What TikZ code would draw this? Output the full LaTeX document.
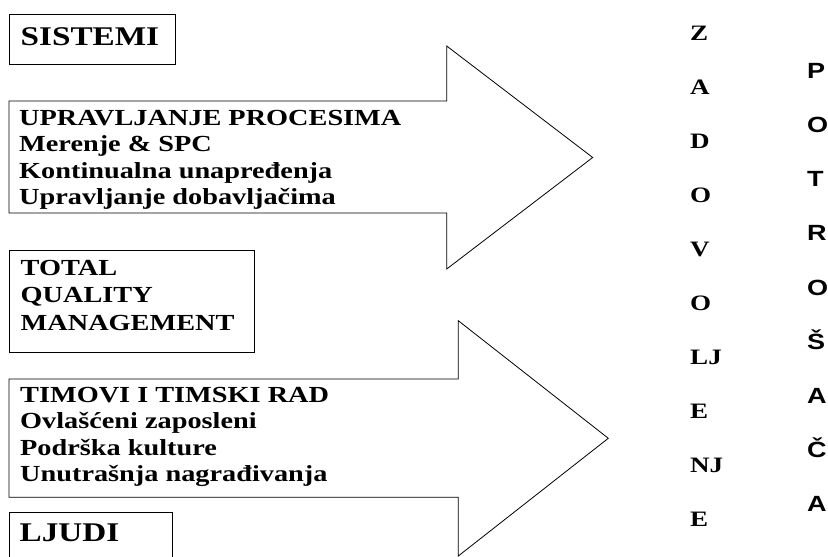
\documentclass[tikz,border=0pt]{standalone}
\usepackage{fontspec}
\setmainfont{Liberation Serif}[FakeStretch=1.23]
\newfontfamily\lettersans{Liberation Sans}[FakeStretch=1.23]
\usetikzlibrary{positioning}

\begin{document}
\begin{tikzpicture}[
  x=1pt, y=-1pt,
  boxframe/.style={draw, line width=0.8pt, inner sep=0pt, anchor=north west},
  headtext/.style={font=\fontsize{27}{30}\selectfont\bfseries, inner sep=0pt, anchor=base west},
  bodytext/.style={font=\fontsize{23}{26.3}\selectfont\bfseries, align=left, inner sep=0pt, anchor=north west},
  blockarrow/.style={draw, line width=0.8pt, line join=miter},
  zletter/.style={font=\fontsize{22}{24}\selectfont\bfseries, inner sep=0pt, anchor=base west},
  pletter/.style={font=\lettersans\fontsize{22}{24}\selectfont\bfseries, inner sep=0pt, anchor=base west}
]
\useasboundingbox (0,0) rectangle (828,557);

% boxes on the left
\node[boxframe, minimum width=166pt, minimum height=50pt] (sistemi) at (9,14) {};
\node[headtext] (sistemiT) at (20.5,45) {SISTEMI};
\node[boxframe, minimum width=245pt, minimum height=102pt] (tqm) at (9,250) {};
\node[bodytext, font=\fontsize{23}{27.5}\selectfont\bfseries] (tqmT) at (20.5,260) {TOTAL\\QUALITY\\MANAGEMENT};
\node[boxframe, minimum width=163pt, minimum height=56pt] (ljudi) at (9,511.7) {};
\node[headtext] (ljudiT) at (19.5,541.7) {LJUDI};

% the two big arrows
\draw[blockarrow] (9,101) -- (446.7,101) -- (446.7,46) -- (592.7,157.5)
  -- (446.7,269) -- (446.7,213) -- (9,213) -- cycle;
\draw[blockarrow] (9,379) -- (458.3,379) -- (458.3,320.7) -- (608.3,438.3)
  -- (458.3,556) -- (458.3,497.3) -- (9,497.3) -- cycle;
\node[bodytext] (procesi) at (19,110) {UPRAVLJANJE PROCESIMA\\Merenje \& SPC\\Kontinualna unapređenja\\Upravljanje dobavljačima};
\node[bodytext] (timovi) at (20,387) {TIMOVI I TIMSKI RAD\\Ovlašćeni zaposleni\\Podrška kulture\\Unutrašnja nagrađivanja};

% vertical words
\foreach \ch [count=\i from 0] in {Z,A,D,O,V,O,LJ,E,NJ,E}
  \node[zletter] (z\i) at (690,40+54*\i) {\ch};
\foreach \ch [count=\i from 0] in {P,O,T,R,O,Š,A,Č,A}
  \node[pletter] (p\i) at (807,78.3+54.2*\i) {\ch};
\end{tikzpicture}
\end{document}
